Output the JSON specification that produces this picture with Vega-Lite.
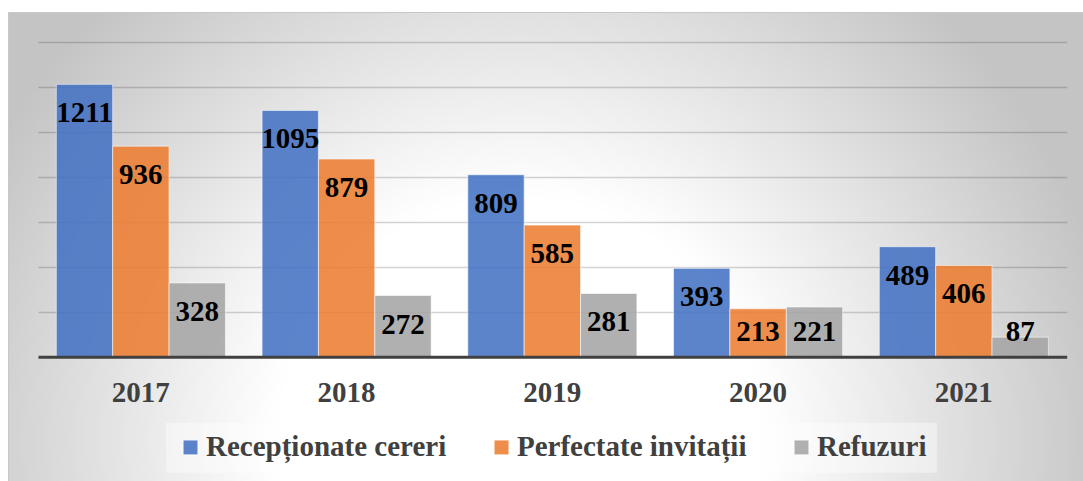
{
  "$schema": "https://vega.github.io/schema/vega-lite/v6.json",
  "width": 1075,
  "height": 469,
  "autosize": "none",
  "padding": {"left": 8, "top": 12, "right": 0, "bottom": 0},
  "background": "white",
  "view": {
    "fill": {
      "gradient": "radial",
      "x1": 0.476, "y1": 0.678, "r1": 0,
      "x2": 0.476, "y2": 0.678, "r2": 0.558,
      "stops": [
        {"offset": 0, "color": "#ffffff"},
        {"offset": 0.4, "color": "#ffffff"},
        {"offset": 1, "color": "#c4c4c4"}
      ]
    },
    "stroke": "#c8c8c8",
    "strokeWidth": 1
  },
  "data": {
    "values": [
      {"year": "2017", "series": "Recepționate cereri", "value": 1211},
      {"year": "2017", "series": "Perfectate invitații", "value": 936},
      {"year": "2017", "series": "Refuzuri", "value": 328},
      {"year": "2018", "series": "Recepționate cereri", "value": 1095},
      {"year": "2018", "series": "Perfectate invitații", "value": 879},
      {"year": "2018", "series": "Refuzuri", "value": 272},
      {"year": "2019", "series": "Recepționate cereri", "value": 809},
      {"year": "2019", "series": "Perfectate invitații", "value": 585},
      {"year": "2019", "series": "Refuzuri", "value": 281},
      {"year": "2020", "series": "Recepționate cereri", "value": 393},
      {"year": "2020", "series": "Perfectate invitații", "value": 213},
      {"year": "2020", "series": "Refuzuri", "value": 221},
      {"year": "2021", "series": "Recepționate cereri", "value": 489},
      {"year": "2021", "series": "Perfectate invitații", "value": 406},
      {"year": "2021", "series": "Refuzuri", "value": 87}
    ]
  },
  "encoding": {
    "x": {
      "field": "year",
      "type": "nominal",
      "scale": {"range": [30, 1058.7], "paddingInner": 0.178, "paddingOuter": 0.089},
      "axis": {
        "title": null,
        "orient": "bottom",
        "offset": -124.3,
        "domainColor": "#404040",
        "domainWidth": 3,
        "ticks": false,
        "labelAngle": 0,
        "labelFont": "Liberation Serif",
        "labelFontWeight": "bold",
        "labelFontSize": 29,
        "labelColor": "#404040",
        "labelPadding": 22,
        "zindex": 1
      }
    },
    "xOffset": {
      "field": "series",
      "type": "nominal",
      "sort": ["Recepționate cereri", "Perfectate invitații", "Refuzuri"],
      "scale": {"paddingInner": 0, "paddingOuter": 0}
    }
  },
  "layer": [
    {
      "mark": {"type": "bar", "opacity": 0.87, "stroke": "#ffffff", "strokeWidth": 1, "strokeOpacity": 0.6},
      "encoding": {
        "y": {
          "field": "value",
          "type": "quantitative",
          "stack": null,
          "scale": {"domain": [0, 1400], "range": [344.7, 29.8], "nice": false, "zero": true},
          "axis": {
            "values": [200, 400, 600, 800, 1000, 1200, 1400],
            "grid": true,
            "labels": false,
            "ticks": false,
            "domain": false,
            "title": null,
            "gridColor": "#000000",
            "gridOpacity": 0.17,
            "gridWidth": 1.5
          }
        },
        "color": {
          "field": "series",
          "type": "nominal",
          "sort": ["Recepționate cereri", "Perfectate invitații", "Refuzuri"],
          "scale": {"domain": ["Recepționate cereri", "Perfectate invitații", "Refuzuri"], "range": ["#4472C4", "#ED7D31", "#A5A5A5"]},
          "legend": {
            "title": null,
            "orient": "none",
            "legendX": 158,
            "legendY": 410.7,
            "direction": "horizontal",
            "fillColor": "rgba(255,255,255,0.4)",
            "padding": 10,
            "columnPadding": 40,
            "symbolType": "square",
            "symbolSize": 225,
            "symbolStrokeColor": "#ffffff",
            "symbolStrokeWidth": 1,
            "symbolOpacity": 0.87,
            "labelFont": "Liberation Serif",
            "labelFontWeight": "bold",
            "labelFontSize": 29,
            "labelColor": "#404040",
            "labelOffset": 1,
            "labelLimit": 0
          }
        }
      }
    },
    {
      "mark": {"type": "text", "font": "Liberation Serif", "fontWeight": "bold", "fontSize": 29, "color": "#000000", "baseline": "alphabetic", "align": "center", "dy": 38},
      "encoding": {
        "y": {
          "field": "value",
          "type": "quantitative",
          "scale": {"domain": [240, 1400], "range": [290.7, 29.8], "nice": false, "zero": false, "clamp": true},
          "axis": null
        },
        "text": {"field": "value", "type": "quantitative"}
      }
    }
  ],
  "resolve": {"scale": {"y": "independent"}}
}
